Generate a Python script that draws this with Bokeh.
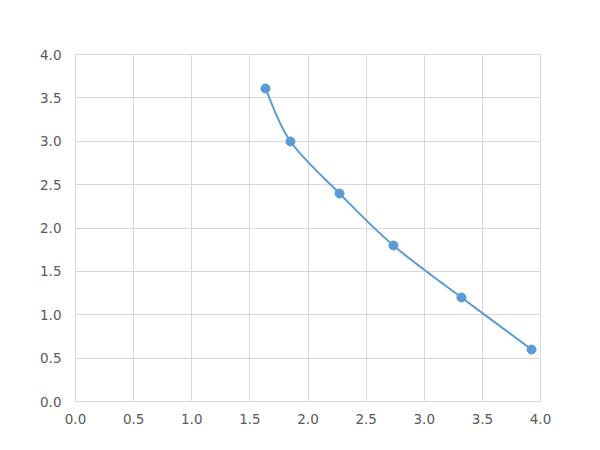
import numpy as np
from bokeh.plotting import figure
from bokeh.models import Range1d, FixedTicker
from bokeh.embed import file_html
from bokeh.resources import INLINE

x_vals = [1.634, 1.849, 2.271, 2.735, 3.320, 3.923]
y_vals = [3.608, 2.997, 2.398, 1.798, 1.199, 0.599]
x_ticks = [0.0, 0.5, 1.0, 1.5, 2.0, 2.5, 3.0, 3.5, 4.0]
y_ticks = [0.0, 0.5, 1.0, 1.5, 2.0, 2.5, 3.0, 3.5, 4.0]

color = "#5b9bd5"
grid = "#d9d9d9"
txt = "#595959"

p = figure(width=592, height=442, output_backend="svg", toolbar_location=None,
           x_range=Range1d(0, 4), y_range=Range1d(0, 4),
           min_border_left=75, min_border_right=52, min_border_top=54, min_border_bottom=41)
p.outline_line_color = grid
p.background_fill_color = "white"
p.border_fill_color = "white"

for ax, ticks in ((p.xaxis, x_ticks), (p.yaxis, y_ticks)):
    ax.ticker = FixedTicker(ticks=ticks)
    ax.major_label_overrides = {t: f"{t:.1f}" for t in ticks}
    ax.axis_line_color = grid
    ax.major_tick_line_color = None
    ax.minor_tick_line_color = None
    ax.major_label_text_color = txt
    ax.major_label_text_font = "DejaVu Sans"
    ax.major_label_text_font_size = "13.5px"
p.xaxis.major_label_standoff = 6
p.yaxis.major_label_standoff = 8

p.xgrid.grid_line_color = grid
p.ygrid.grid_line_color = grid
p.xgrid.ticker = FixedTicker(ticks=x_ticks)
p.ygrid.ticker = FixedTicker(ticks=y_ticks)

# smoothed curve (Catmull-Rom style bezier, as in spreadsheet "smoothed line")
P = np.column_stack([x_vals, y_vals])
n = len(P)
x0, y0, x1, y1, cx0, cy0, cx1, cy1 = ([] for _ in range(8))
for i in range(n - 1):
    pm = P[max(i - 1, 0)]
    pa = P[i]
    pb = P[i + 1]
    pn = P[min(i + 2, n - 1)]
    c1 = pa + (pb - pm) / 6
    c2 = pb - (pn - pa) / 6
    x0.append(pa[0]); y0.append(pa[1]); x1.append(pb[0]); y1.append(pb[1])
    cx0.append(c1[0]); cy0.append(c1[1]); cx1.append(c2[0]); cy1.append(c2[1])
p.bezier(x0=x0, y0=y0, x1=x1, y1=y1, cx0=cx0, cy0=cy0, cx1=cx1, cy1=cy1,
         line_color=color, line_width=2)
p.scatter(x_vals, y_vals, size=9, fill_color=color, line_color=color)

open("out.html", "w").write(file_html(p, INLINE))
